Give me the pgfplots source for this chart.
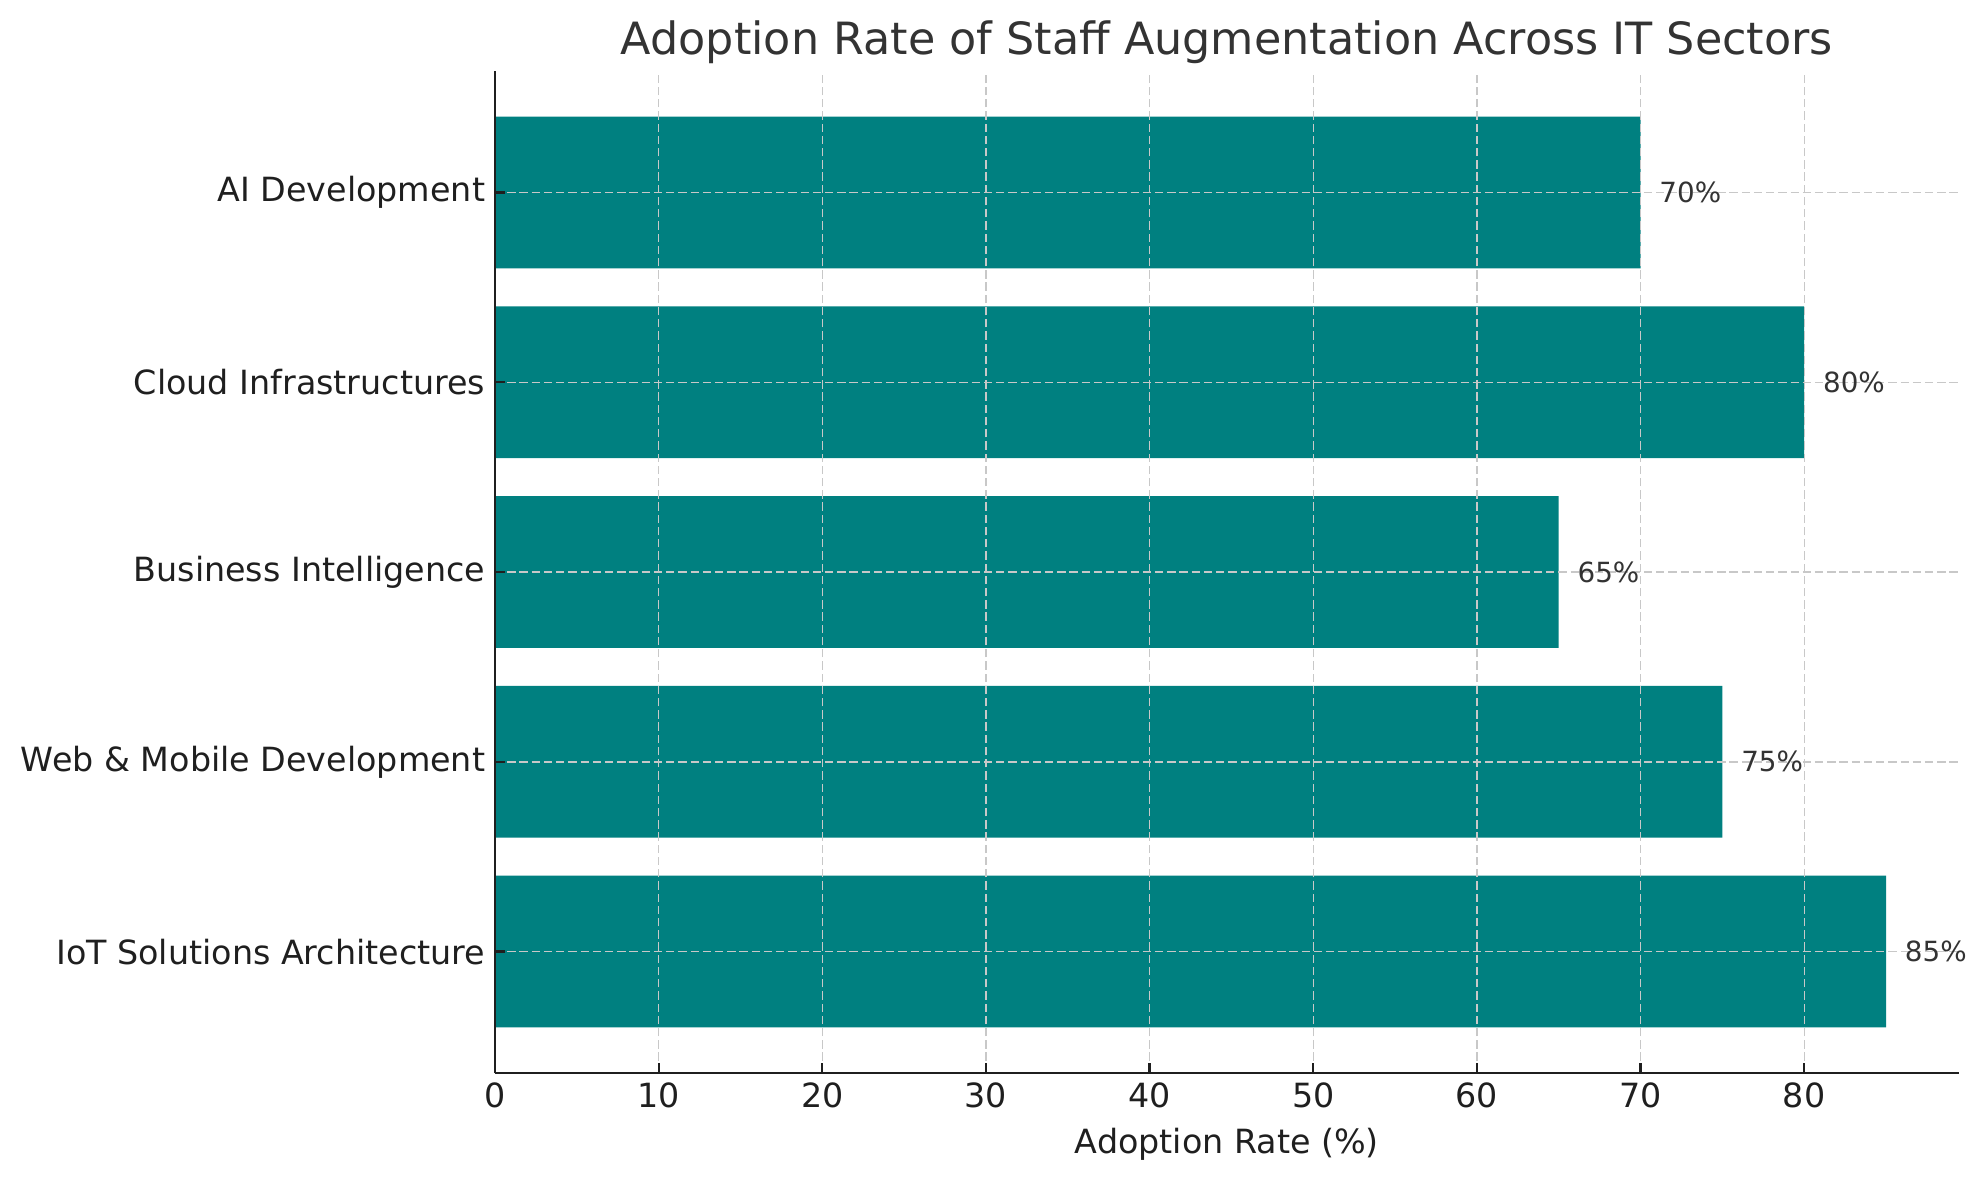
\documentclass[border=0pt]{standalone}
\usepackage{pgfplots}
\pgfplotsset{compat=1.18}
\usetikzlibrary{calc}
\usepackage{fontspec}
\setmainfont{DejaVu Sans}
\definecolor{barteal}{RGB}{0,128,128}
\definecolor{gridgray}{RGB}{200,200,200}
\definecolor{txt}{RGB}{51,51,51}
\begin{document}
\begin{tikzpicture}
\begin{axis}[
  name=ax,
  scale only axis,
  width=527pt, height=360.7pt,
  xbar, bar width=0.8,
  xmin=0, xmax=89.45, ymin=-0.64, ymax=4.64,
  ytick={0,1,2,3,4},
  yticklabels={IoT Solutions Architecture, Web \& Mobile Development, Business Intelligence, Cloud Infrastructures, AI Development},
  xtick={0,10,...,80},
  grid=major,
  major grid style={gridgray, dash pattern=on 3pt off 1.4pt, line width=0.5pt},
  axis on top,
  axis x line*=bottom, axis y line*=left,
  axis line style={black!88, line width=0.8pt, -},
  tick align=inside, major tick length=3.6pt,
  major tick style={black!88, line width=0.8pt},
  ticklabel style={font=\fontsize{12}{14}\selectfont, text=black!88},
  /pgf/number format/assume math mode=true,
  xlabel={Adoption Rate (\%)},
  xlabel style={font=\fontsize{12}{14}\selectfont, text=black!88, at={(axis description cs:0.5,0)}, anchor=base, yshift=-28.8pt},
  title={Adoption Rate of Staff Augmentation Across IT Sectors},
  title style={font=\fontsize{16}{19}\selectfont, text=txt, at={(axis description cs:0.5,1)}, anchor=base, yshift=-0.2pt},
  nodes near coords={\pgfmathprintnumber{\pgfplotspointmeta}\%},
  nodes near coords style={font=\fontsize{10}{12}\selectfont, text=txt, anchor=west, inner sep=0pt, xshift=6.6pt},
  point meta=x,
]
\addplot[fill=barteal, draw=none] coordinates {(85,0) (75,1) (65,2) (80,3) (70,4)};
\end{axis}
\pgfresetboundingbox
\useasboundingbox ($(ax.south west)+(-178.2pt,-38.5pt)$) rectangle ++(713.9pt,424.8pt);
\end{tikzpicture}
\end{document}
